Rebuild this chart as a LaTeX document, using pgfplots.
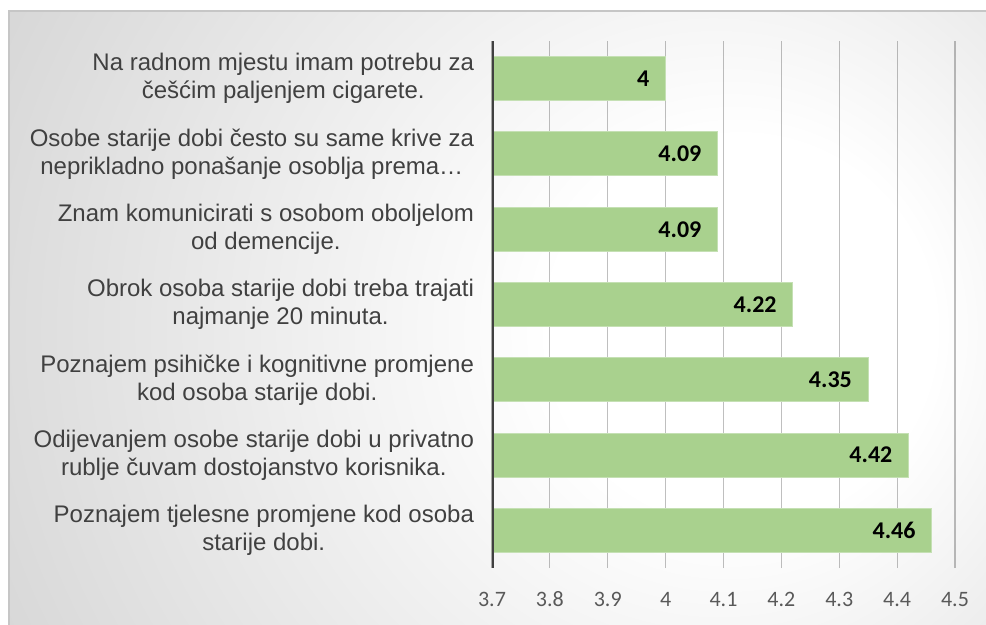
\documentclass[border=0pt]{standalone}
\usepackage{fontspec}
\setmainfont{Liberation Sans}
\newfontfamily\calibri{Carlito}
\usepackage{pgfplots}
\pgfplotsset{compat=1.18}
\definecolor{barfill}{HTML}{A9D18E}
\definecolor{barline}{HTML}{C5E0B4}
\definecolor{txt}{HTML}{404040}
\definecolor{tickc}{HTML}{595959}
\definecolor{bgout}{HTML}{C6C6C6}
\pgfdeclareradialshading{bgshade}{\pgfpoint{12bp}{0bp}}{color(0bp)=(white); color(8bp)=(white); color(38bp)=(bgout); color(50bp)=(bgout)}
\begin{document}
\begin{tikzpicture}
\useasboundingbox (0,0) rectangle (739.5pt,-468.75pt);
\begin{scope}
\clip (6.75pt,-8.25pt) rectangle (739.5pt,-468.75pt);
\fill[bgout] (6.75pt,-8.25pt) rectangle (739.5pt,-468.75pt);
\shade[shading=bgshade] (375pt,-247.5pt) circle (450pt);
\end{scope}
\draw[gray!45, line width=0.8pt] (6.75pt,-468.75pt) -- (6.75pt,-8.25pt) -- (739.5pt,-8.25pt);
\begin{axis}[
  at={(369pt,-426pt)}, anchor=south west,
  width=347.25pt, height=395.25pt, scale only axis,
  xbar, bar width=33pt, bar shift=0pt,
  xmin=3.7, xmax=4.5, ymin=-0.5, ymax=6.5,
  xtick={3.7,3.8,3.9,4,4.1,4.2,4.3,4.4,4.5},
  xticklabels={3.7,3.8,3.9,4,4.1,4.2,4.3,4.4,4.5},
  xmajorgrids,
  grid style={black, opacity=0.25, line width=0.9pt},
  ytick={0,1,2,3,4,5,6},
  yticklabels={
    {Poznajem tjelesne promjene kod osoba\\starije dobi.},
    {Odijevanjem osobe starije dobi u privatno\\rublje čuvam dostojanstvo korisnika.},
    {Poznajem psihičke i kognitivne promjene\\kod osoba starije dobi.},
    {Obrok osoba starije dobi treba trajati\\najmanje 20 minuta.},
    {Znam komunicirati s osobom oboljelom\\od demencije.},
    {Osobe starije dobi često su same krive za\\neprikladno ponašanje osoblja prema…},
    {Na radnom mjestu imam potrebu za\\češćim paljenjem cigarete.}
  },
  major tick length=0pt,
  axis line style={draw=none},
  /pgf/number format/assume math mode=true,
  xticklabel style={font=\calibri\fontsize{16.5}{19}\selectfont, text=tickc, anchor=base, yshift=-29pt},
  yticklabel style={font=\fontsize{18}{21}\selectfont, text=txt, align=center, xshift=-10pt},
  nodes near coords,
  nodes near coords style={font=\calibri\bfseries\fontsize{18}{21}\selectfont, anchor=east, xshift=-8.5pt, text=black},
]
\addplot[fill=barfill, draw=barline, line width=0.8pt] coordinates {(4.46,0) (4.42,1) (4.35,2) (4.22,3) (4.09,4) (4.09,5) (4,6)};
\draw[color=txt, line width=2.4pt] (axis cs:3.7,-0.5) -- (axis cs:3.7,6.5);
\end{axis}
\end{tikzpicture}
\end{document}
